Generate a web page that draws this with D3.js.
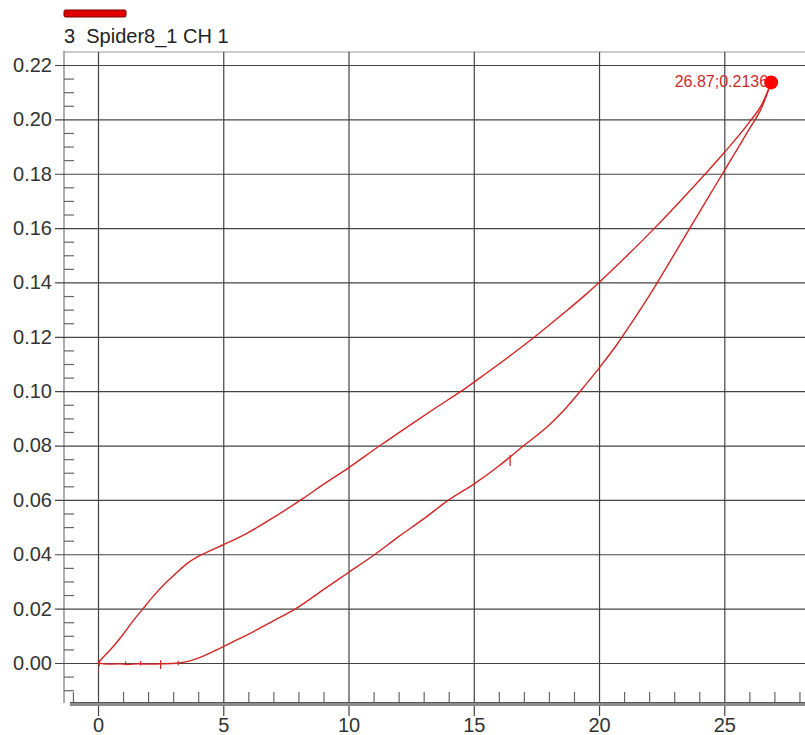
<!DOCTYPE html>
<head>
  <meta charset="utf-8">
  <script src="https://d3js.org/d3.v7.min.js"></script>
  <style>
    body { margin: 0; background: #fff; }
    text { font-family: "Liberation Sans", Arial, sans-serif; }
    .tick text { fill: #333; font-size: 20px; }
    .grid .tick line { stroke: #444; stroke-width: 1.2; }
    .minor .tick line { stroke: #666; stroke-width: 1.2; }
    path.domain { display: none; }
  </style>
</head>
<body>
<script>
  // tick values
  const xMajor = [0, 5, 10, 15, 20, 25];
  const xMinor = [-1, 1, 2, 3, 4, 6, 7, 8, 9, 11, 12, 13, 14, 16, 17, 18, 19, 21, 22, 23, 24, 26, 27, 28, 29];
  const yMajor = [0, 0.02, 0.04, 0.06, 0.08, 0.10, 0.12, 0.14, 0.16, 0.18, 0.20, 0.22];
  const yMinor = [-0.01, -0.005, 0.005, 0.01, 0.015, 0.025, 0.03, 0.035, 0.045, 0.05, 0.055,
                  0.065, 0.07, 0.075, 0.085, 0.09, 0.095, 0.105, 0.11, 0.115, 0.125, 0.13, 0.135,
                  0.145, 0.15, 0.155, 0.165, 0.17, 0.175, 0.185, 0.19, 0.195, 0.205, 0.21, 0.215];

  // loading branch (upper)
  const upper = [
    [0, 0], [0.3, 0.003], [0.6, 0.006], [1.0, 0.0105], [1.4, 0.0155], [1.8, 0.020],
    [2.2, 0.0245], [2.6, 0.0285], [3.0, 0.032], [3.5, 0.0362], [4.0, 0.0392], [4.5, 0.0414],
    [5.0, 0.0435], [6.0, 0.048], [7.0, 0.0535], [8.1, 0.060], [9.0, 0.0657], [10.0, 0.0718],
    [11.26, 0.080], [12.5, 0.0878], [13.5, 0.094], [14.5, 0.100], [15.5, 0.1066], [16.5, 0.1134],
    [17.5, 0.1205], [18.5, 0.128], [19.5, 0.1358], [20.0, 0.140], [21.0, 0.1488], [22.2, 0.1598],
    [23.2, 0.1695], [24.2, 0.1795], [25.0, 0.1878], [26.0, 0.199], [26.5, 0.2055], [26.87, 0.2136]
  ];

  // unloading branch (lower)
  const lower = [
    [0, 0], [0.4, -0.0004], [0.8, -0.0003], [1.2, -0.0005], [1.6, -0.0003], [2.0, -0.0004],
    [2.5, -0.0003], [3.0, -0.0002], [3.5, 0.0004], [4.0, 0.0018], [4.5, 0.0038], [5.0, 0.006],
    [5.5, 0.0083], [6.0, 0.0105], [6.5, 0.013], [7.0, 0.0155], [7.9, 0.020], [9.0, 0.027],
    [10.0, 0.0333], [11.06, 0.040], [12.0, 0.0465], [13.0, 0.053], [14.0, 0.060], [15.0, 0.0658],
    [16.0, 0.0725], [17.0, 0.080], [18.0, 0.0875], [18.6, 0.093], [19.25, 0.100], [20.0, 0.1085],
    [20.7, 0.117], [21.4, 0.1265], [22.1, 0.1365], [22.75, 0.1465], [23.4, 0.1565], [24.05, 0.1665],
    [24.7, 0.1765], [25.35, 0.1865], [26.0, 0.1965], [26.5, 0.2045], [26.87, 0.2136]
  ];

  // little noise spikes [x, yLow, yHigh]
  const spikes = [[0.05, -0.0012, 0.0012], [1.1, -0.0008, 0.0006], [1.7, -0.0009, 0.0007],
                  [2.5, -0.0022, 0.001], [3.2, -0.0008, 0.0008], [16.45, 0.0725, 0.0765]];

  const peak = [26.87, 0.2136];

  const width = 805, height = 735;
  const plotLeft = 64, plotTop = 52, plotBottom = 703;

  const svg = d3.select("body").append("svg")
    .attr("width", width)
    .attr("height", height);

  const x = d3.scaleLinear().domain([0, 25]).range([98, 724.3]);
  const y = d3.scaleLinear().domain([0, 0.22]).range([663, 65]);

  // title
  svg.append("rect")
    .attr("x", 64).attr("y", 10).attr("width", 62).attr("height", 7).attr("rx", 1.5)
    .style("fill", "#e00000").style("stroke", "#700").style("stroke-width", 1);
  svg.append("text")
    .attr("x", 64).attr("y", 43)
    .style("font-size", "20px").style("fill", "#222")
    .style("white-space", "pre")
    .text("3  Spider8_1 CH 1");

  // frame
  svg.append("line").attr("x1", plotLeft).attr("x2", width).attr("y1", plotTop).attr("y2", plotTop)
    .style("stroke", "#999").style("stroke-width", 1.2);
  svg.append("line").attr("x1", plotLeft).attr("x2", plotLeft).attr("y1", plotTop - 1).attr("y2", plotBottom)
    .style("stroke", "#777").style("stroke-width", 1.2);

  // horizontal grid + y labels
  svg.append("g")
    .attr("class", "grid")
    .attr("transform", "translate(55,0)")
    .call(d3.axisLeft(y).tickValues(yMajor).tickSize(-(width - 55)).tickPadding(3)
      .tickFormat(d3.format(".2f")));

  // vertical grid + x labels
  svg.append("g")
    .attr("class", "grid")
    .attr("transform", "translate(0,716)")
    .call(d3.axisBottom(x).tickValues(xMajor).tickSize(-(716 - plotTop)).tickPadding(2)
      .tickFormat(d3.format("d")));

  // minor ticks
  svg.append("g")
    .attr("class", "minor")
    .attr("transform", `translate(${plotLeft},0)`)
    .call(d3.axisLeft(y).tickValues(yMinor).tickSize(-10).tickFormat(""));
  svg.append("g")
    .attr("class", "minor")
    .attr("transform", `translate(0,${plotBottom})`)
    .call(d3.axisBottom(x).tickValues(xMinor).tickSize(-11).tickFormat(""));

  // bottom axis bar
  svg.append("rect")
    .attr("x", 70).attr("y", plotBottom - 1).attr("width", width - 70).attr("height", 4)
    .style("fill", "#8c8c8c");
  svg.append("line").attr("x1", 70).attr("x2", width).attr("y1", plotBottom - 0.5).attr("y2", plotBottom - 0.5)
    .style("stroke", "#555").style("stroke-width", 1);

  // curves
  const line = d3.line()
    .x(d => x(d[0]))
    .y(d => y(d[1]))
    .curve(d3.curveMonotoneX);

  [upper, lower].forEach(s => {
    svg.append("path")
      .datum(s)
      .attr("d", line)
      .style("fill", "none")
      .style("stroke", "#d42525")
      .style("stroke-width", 1.4);
  });

  svg.selectAll("line.spike")
    .data(spikes)
    .enter()
    .append("line")
    .attr("class", "spike")
    .attr("x1", d => x(d[0])).attr("x2", d => x(d[0]))
    .attr("y1", d => y(d[1])).attr("y2", d => y(d[2]))
    .style("stroke", "#d42525").style("stroke-width", 1.3);

  // peak marker
  svg.append("text")
    .attr("x", x(peak[0]) - 3)
    .attr("y", y(peak[1]) + 5)
    .style("text-anchor", "end")
    .style("font-size", "16px")
    .style("fill", "#cc2a2a")
    .text(`${peak[0]};${peak[1]}`);
  svg.append("circle")
    .attr("cx", x(peak[0]))
    .attr("cy", y(peak[1]))
    .attr("r", 7)
    .style("fill", "#ff0000");
</script>
</body>
